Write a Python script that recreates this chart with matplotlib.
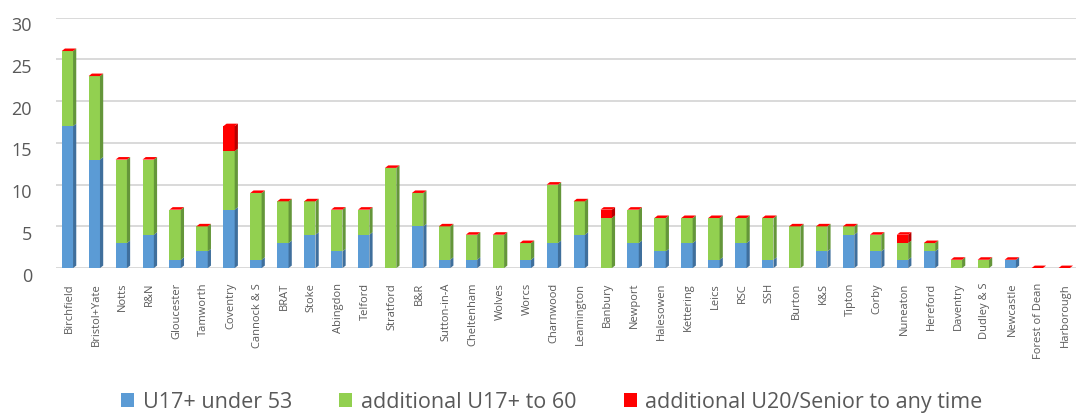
import numpy as np
import matplotlib.pyplot as plt
import matplotlib.transforms as mtransforms
from matplotlib.patches import Polygon

plt.rcParams['font.family'] = ['Open Sans', 'DejaVu Sans']

clubs = ['Birchfield', 'Bristol+Yate', 'Notts', 'R&N', 'Gloucester', 'Tamworth',
         'Coventry', 'Cannock & S', 'BRAT', 'Stoke', 'Abingdon', 'Telford',
         'Stratford', 'B&R', 'Sutton-in-A', 'Cheltenham', 'Wolves', 'Worcs',
         'Charnwood', 'Leamington', 'Banbury', 'Newport', 'Halesowen', 'Kettering',
         'Leics', 'RSC', 'SSH', 'Burton', 'K&S', 'Tipton', 'Corby', 'Nuneaton',
         'Hereford', 'Daventry', 'Dudley & S', 'Newcastle', 'Forest of Dean',
         'Harborough']
u17_under53 = [17, 13, 3, 4, 1, 2, 7, 1, 3, 4, 2, 4, 0, 5, 1, 1, 0, 1,
               3, 4, 0, 3, 2, 3, 1, 3, 1, 0, 2, 4, 2, 1, 2, 0, 0, 1, 0, 0]
u17_to60 = [9, 10, 10, 9, 6, 3, 7, 8, 5, 4, 5, 3, 12, 4, 4, 3, 4, 2,
            7, 4, 6, 4, 4, 3, 5, 3, 5, 5, 3, 1, 2, 2, 1, 1, 1, 0, 0, 0]
u20_senior = [0, 0, 0, 0, 0, 0, 3, 0, 0, 0, 0, 0, 0, 0, 0, 0, 0, 0,
              0, 0, 1, 0, 0, 0, 0, 0, 0, 0, 0, 0, 0, 1, 0, 0, 0, 0, 0, 0]

series = [
    (u17_under53, 'U17+ under 53', '#5B9BD5', '#3F6F9C'),
    (u17_to60, 'additional U17+ to 60', '#92D050', '#64963A'),
    (u20_senior, 'additional U20/Senior to any time', '#FF0000', '#B80000'),
]

grey = '#595959'
w = 0.42      # front face width
dx = 0.12     # depth offset in x
dy = 0.3      # depth offset in y

fig = plt.figure(figsize=(10.76, 4.14), dpi=100)
ax = fig.add_axes([0.0516, 0.350, 0.9484, 0.605])

x = np.arange(len(clubs))
bottom = np.zeros(len(clubs))
for vals, label, col, side in series:
    vals = np.array(vals, dtype=float)
    ax.bar(x - dx / 2, vals, w, bottom=bottom, color=col, label=label, zorder=3)
    for xi, b, v in zip(x, bottom, vals):
        if v <= 0:
            continue
        xr = xi - dx / 2 + w / 2
        ax.add_patch(Polygon([(xr, b), (xr + dx, b + dy), (xr + dx, b + v + dy), (xr, b + v)],
                             closed=True, color=side, lw=0, zorder=3))
    bottom += vals

# top faces of the stacks
for xi, top in zip(x, bottom):
    xl = xi - dx / 2 - w / 2
    xr = xi - dx / 2 + w / 2
    ax.add_patch(Polygon([(xl, top), (xr, top), (xr + dx, top + dy), (xl + dx, top + dy)],
                         closed=True, color='#FF0000', lw=0, zorder=4))

ax.set_xlim(-0.5, 37.38)
ax.set_ylim(0, 30)
ax.set_yticks(range(0, 31, 5))
ax.yaxis.grid(True, color='#D9D9D9', lw=1.4, zorder=0)
ax.set_axisbelow(True)
for s in ax.spines.values():
    s.set_visible(False)
ax.tick_params(axis='y', length=0, pad=17, labelsize=13, labelcolor=grey)
shift = mtransforms.ScaledTranslation(0, -4 / 72, fig.dpi_scale_trans)
for t in ax.get_yticklabels():
    t.set_transform(t.get_transform() + shift)
ax.set_xticks(x)
ax.set_xticklabels(clubs, rotation=90, fontsize=8, color=grey)
ax.tick_params(axis='x', length=0, pad=10)

fig.legend(loc='center', bbox_to_anchor=(0.513, 0.027), ncol=3, frameon=False,
           fontsize=15.5, labelcolor=grey, handlelength=0.6, handleheight=0.6,
           handletextpad=0.4, columnspacing=2.2)

fig.savefig('out.png', dpi=100)
